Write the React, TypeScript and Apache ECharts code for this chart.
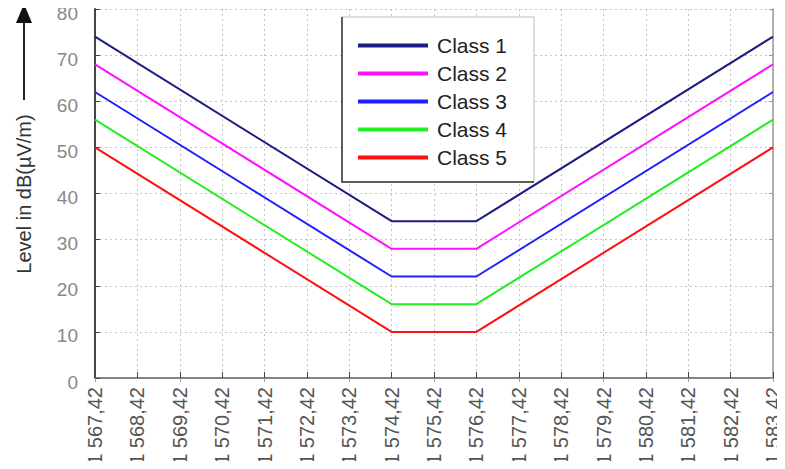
import React, { useEffect, useRef } from "react";
import * as echarts from "echarts";

// Frequency axis categories (MHz)
const categories = [
  "1 567,42", "1 568,42", "1 569,42", "1 570,42", "1 571,42", "1 572,42",
  "1 573,42", "1 574,42", "1 575,42", "1 576,42", "1 577,42", "1 578,42",
  "1 579,42", "1 580,42", "1 581,42", "1 582,42", "1 583,42",
];

// Break-point frequencies of each limit curve
const breakFreqs = ["1 567,42", "1 574,42", "1 576,42", "1 583,42"];

// Limit levels at the break points, dB(µV/m)
const class1 = [74, 34, 34, 74];
const class2 = [68, 28, 28, 68];
const class3 = [62, 22, 22, 62];
const class4 = [56, 16, 16, 56];
const class5 = [50, 10, 10, 50];

const seriesNames = ["Class 1", "Class 2", "Class 3", "Class 4", "Class 5"];
const seriesValues = [class1, class2, class3, class4, class5];
const seriesColors = ["#1c1c84", "#ff10ff", "#2020ff", "#22ee22", "#ff1010"];

const yTicks = { min: 0, max: 80, interval: 10 };

export default function App() {
  const ref = useRef<HTMLDivElement>(null);

  useEffect(() => {
    if (!ref.current) return;
    const chart = echarts.init(ref.current, undefined, { renderer: "svg" });
    const font = "'Liberation Sans', Arial, sans-serif";

    chart.setOption({
      animation: false,
      backgroundColor: "#ffffff",
      grid: { left: 95, right: 12, top: 9, bottom: 91, containLabel: false },
      legend: {
        orient: "vertical",
        left: 353,
        top: 30,
        z: 20,
        icon: "rect",
        itemWidth: 70,
        itemHeight: 4,
        itemGap: 7,
        data: seriesNames,
        textStyle: {
          fontFamily: font,
          fontSize: 21,
          lineHeight: 20,
          color: "#222",
          padding: [0, 0, 0, 4],
        },
      },
      xAxis: [
        {
          type: "category",
          data: categories,
          boundaryGap: false,
          axisLine: { lineStyle: { color: "#444", width: 2 } },
          axisTick: { inside: true, length: 6, lineStyle: { color: "#444" } },
          axisLabel: {
            rotate: 90,
            interval: 0,
            margin: 9,
            fontFamily: font,
            fontSize: 20,
            color: "#555",
          },
          splitLine: {
            show: true,
            lineStyle: { color: "#c4c4c4", type: [2, 3], width: 1 },
          },
        },
        {
          type: "category",
          data: categories,
          boundaryGap: false,
          position: "top",
          axisLine: { lineStyle: { color: "#999", width: 1.5 } },
          axisTick: { inside: true, length: 4, lineStyle: { color: "#999" } },
          axisLabel: { show: false },
          splitLine: { show: false },
        },
      ],
      yAxis: [
        {
          type: "value",
          min: yTicks.min,
          max: yTicks.max,
          interval: yTicks.interval,
          axisLine: { show: true, lineStyle: { color: "#444", width: 2 } },
          axisTick: { show: true, inside: true, length: 5, lineStyle: { color: "#444" } },
          axisLabel: {
            margin: 17,
            fontFamily: font,
            fontSize: 19,
            color: "#888",
            verticalAlign: "top",
            lineHeight: 8,
          },
          splitLine: {
            show: true,
            lineStyle: { color: "#c4c4c4", type: [2, 3], width: 1 },
          },
        },
        {
          type: "value",
          min: yTicks.min,
          max: yTicks.max,
          interval: yTicks.interval,
          position: "right",
          axisLine: { show: true, lineStyle: { color: "#999", width: 1.5 } },
          axisTick: { show: true, inside: true, length: 4, lineStyle: { color: "#999" } },
          axisLabel: { show: false },
          splitLine: { show: false },
        },
      ],
      graphic: [
        // legend frame
        {
          type: "rect",
          z: 10,
          shape: { x: 342, y: 17, width: 192, height: 165 },
          style: { fill: "#ffffff", stroke: "#bbbbbb", lineWidth: 1 },
        },
        {
          type: "polyline",
          z: 11,
          shape: { points: [[342, 17], [342, 182], [534, 182]] },
          style: { stroke: "#333333", lineWidth: 1.5, fill: "none" },
        },
        // y-axis title with arrow
        {
          type: "line",
          z: 10,
          shape: { x1: 24, y1: 100, x2: 24, y2: 20 },
          style: { stroke: "#222", lineWidth: 2 },
        },
        {
          type: "polygon",
          z: 10,
          shape: { points: [[16, 23], [32, 23], [24, 4]] },
          style: { fill: "#111" },
        },
        {
          type: "text",
          z: 10,
          x: 24,
          y: 194,
          rotation: Math.PI / 2,
          style: {
            text: "Level in dB(µV/m)",
            fontFamily: font,
            fontSize: 20,
            fill: "#333",
            align: "center",
            verticalAlign: "middle",
          },
        },
      ],
      series: seriesNames.map((name, i) => ({
        name,
        type: "line",
        xAxisIndex: 0,
        yAxisIndex: 0,
        showSymbol: false,
        symbol: "none",
        z: 3,
        color: seriesColors[i],
        lineStyle: { color: seriesColors[i], width: 2 },
        data: breakFreqs.map((f, j) => [f, seriesValues[i][j]]),
      })),
    });

    return () => chart.dispose();
  }, []);

  return <div ref={ref} style={{ width: 785, height: 469, margin: -8 }} />;
}
